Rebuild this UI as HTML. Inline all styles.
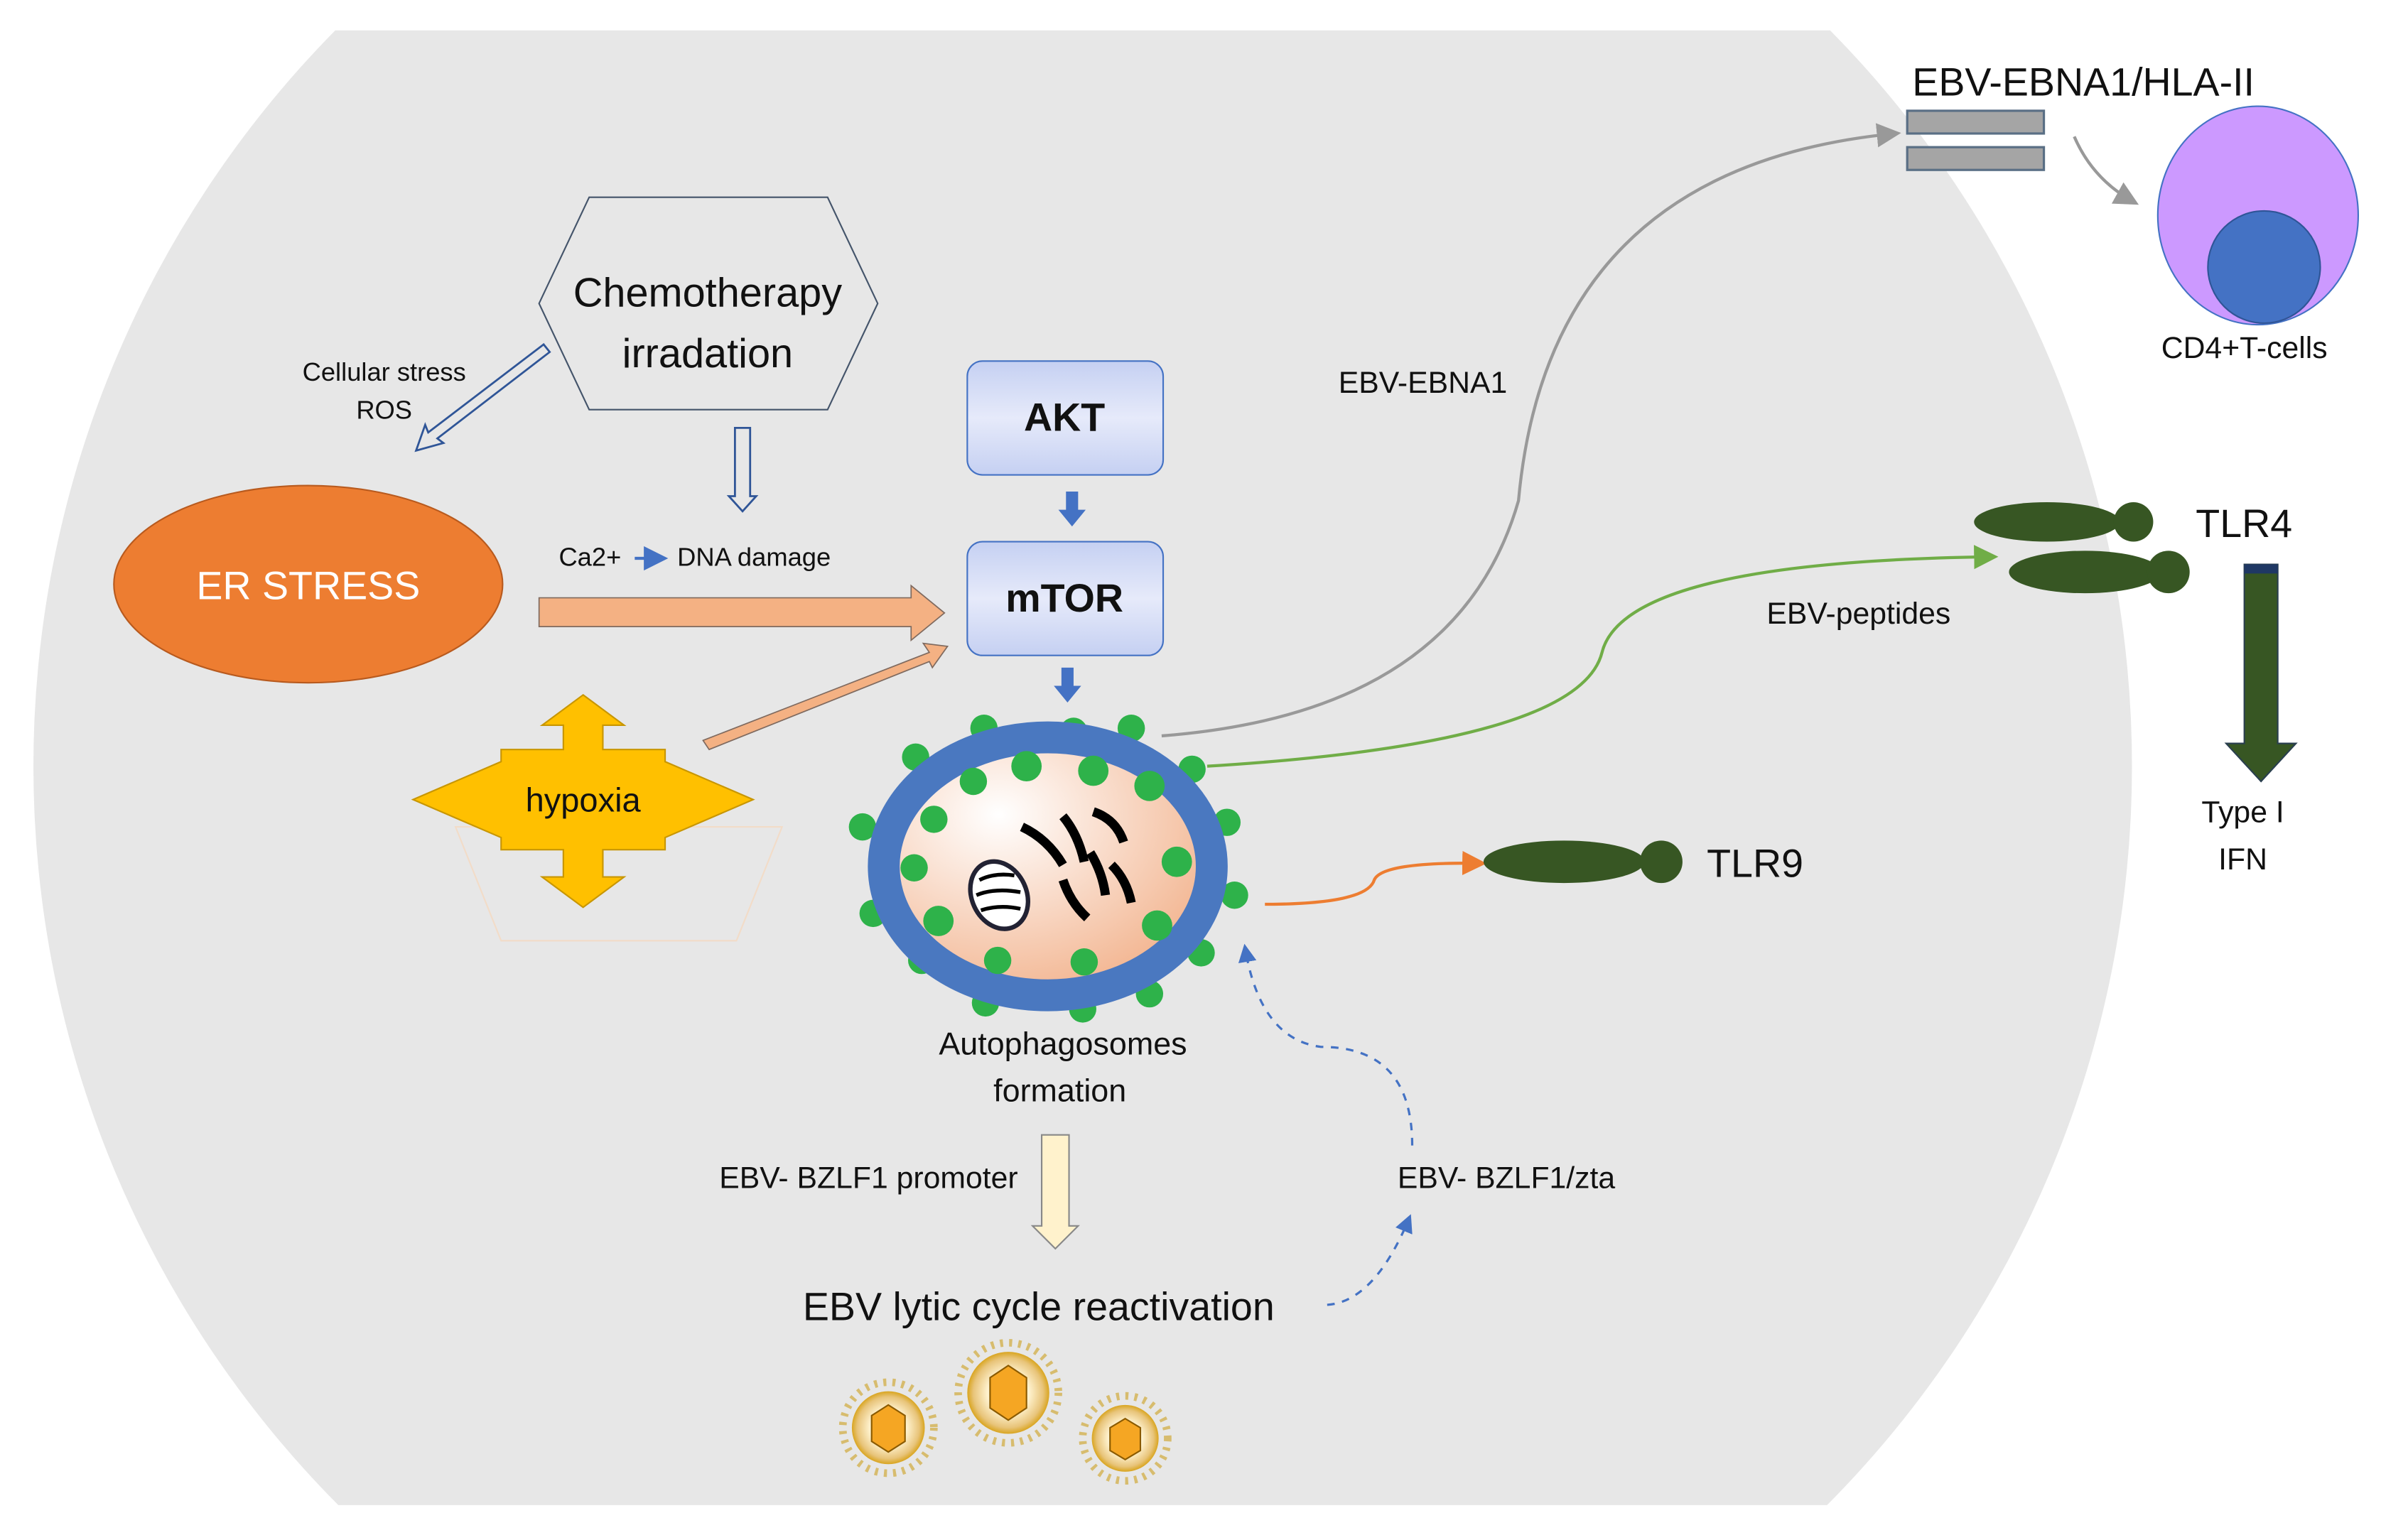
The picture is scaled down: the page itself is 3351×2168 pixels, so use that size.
<!DOCTYPE html>
<html><head><meta charset="utf-8"><style>
html,body{margin:0;padding:0;background:#fff;width:3351px;height:2168px;overflow:hidden}
svg{display:block}
text{font-family:"Liberation Sans",sans-serif;fill:#111}
</style></head><body>
<svg width="3351" height="2168" viewBox="0 0 1568 1015" preserveAspectRatio="none" xmlns="http://www.w3.org/2000/svg">
<defs>
<radialGradient id="inner" cx="0.35" cy="0.3" r="0.7"><stop offset="0" stop-color="#fff"/><stop offset="1" stop-color="#f3b895"/></radialGradient>
<linearGradient id="box" x1="0" y1="0" x2="0" y2="1"><stop offset="0" stop-color="#c5d0f2"/><stop offset="0.5" stop-color="#e6eafa"/><stop offset="1" stop-color="#c5d0f2"/></linearGradient>
<radialGradient id="vir" cx="0.5" cy="0.5" r="0.5"><stop offset="0.5" stop-color="#fff3d0"/><stop offset="0.85" stop-color="#e8c47a"/><stop offset="1" stop-color="#d9a520"/></radialGradient>
<marker id="ag" markerWidth="8" markerHeight="8" refX="6" refY="4" orient="auto"><path d="M0,0 L8,4 L0,8 z" fill="#999"/></marker>
<marker id="agr" markerWidth="8" markerHeight="8" refX="6" refY="4" orient="auto"><path d="M0,0 L8,4 L0,8 z" fill="#70ad47"/></marker>
<marker id="aor" markerWidth="8" markerHeight="8" refX="6" refY="4" orient="auto"><path d="M0,0 L8,4 L0,8 z" fill="#ed7d31"/></marker>
<marker id="abl" markerWidth="8" markerHeight="8" refX="6" refY="4" orient="auto"><path d="M0,0 L8,4 L0,8 z" fill="#4472c4"/></marker>
</defs>
<path d="M220.8,20 L1205.2,20 A691 691 0 0 1 1203.2,992 L222.8,992 A691 691 0 0 1 220.8,20 z" fill="#e7e7e7"/>

<polygon points="388,130 545,130 578,200 545,270 388,270 355,200" fill="#e7e7e7" stroke="#44546a" stroke-width="1"/>
<text x="466" y="202" font-size="27" text-anchor="middle">Chemotherapy</text>
<text x="466" y="242" font-size="27" text-anchor="middle">irradation</text>

<g fill="none" stroke="#2f5597" stroke-width="1.3">
<path d="M358,227 L282,285 L280,280 L274,297 L292,292 L288,289 L362,232 z"/>
<path d="M484,282 L484,327 L480,327 L489,337 L498,327 L494,327 L494,282 z"/>
</g>
<text x="253" y="251" font-size="17" text-anchor="middle">Cellular stress</text>
<text x="253" y="276" font-size="17" text-anchor="middle">ROS</text>

<ellipse cx="203" cy="385" rx="128" ry="65" fill="#ed7d31" stroke="#b85a1e" stroke-width="1"/>
<text x="203" y="395" font-size="26" text-anchor="middle" style="fill:#fff">ER STRESS</text>

<text x="368" y="373" font-size="17">Ca2+</text>
<line x1="418" y1="368" x2="436" y2="368" stroke="#4472c4" stroke-width="2" marker-end="url(#abl)"/>
<text x="446" y="373" font-size="17">DNA damage</text>

<path d="M355,394 L600,394 L600,386 L622,404 L600,422 L600,413 L355,413 z" fill="#f4b183" stroke="#7f6a5f" stroke-width="0.8"/>
<path d="M463,488 L612,430 L608,424 L624,426 L614,440 L612,436 L467,494 z" fill="#f4b183" stroke="#7f6a5f" stroke-width="0.8"/>

<rect x="637" y="238" width="129" height="75" rx="10" fill="url(#box)" stroke="#4472c4" stroke-width="1"/>
<text x="701" y="284" font-size="26" font-weight="bold" text-anchor="middle">AKT</text>
<rect x="637" y="357" width="129" height="75" rx="10" fill="url(#box)" stroke="#4472c4" stroke-width="1"/>
<text x="701" y="403" font-size="26" font-weight="bold" text-anchor="middle">mTOR</text>
<path d="M702,324 L710,324 L710,336 L715,336 L706,347 L697,336 L702,336 z" fill="#4472c4"/>
<path d="M699,440 L707,440 L707,452 L712,452 L703,463 L694,452 L699,452 z" fill="#4472c4"/>

<polygon points="300,545 330,620 485,620 515,545" fill="none" stroke="#f2dcc8" stroke-width="1"/>
<path d="M384,458 L411,478 L397,478 L397,494 L438,494 L438,502 L496,527 L438,552 L438,560 L397,560 L397,578 L411,578 L384,598 L357,578 L371,578 L371,560 L330,560 L330,552 L272,527 L330,502 L330,494 L371,494 L371,478 L357,478 z" fill="#ffc000" stroke="#c89600" stroke-width="1"/>
<text x="384" y="535" font-size="22" text-anchor="middle">hypoxia</text>

<g fill="#2eb24a">
<circle cx="648" cy="480" r="9"/><circle cx="707" cy="482" r="9"/><circle cx="745" cy="480" r="9"/>
<circle cx="603" cy="499" r="9"/><circle cx="785" cy="507" r="9"/><circle cx="568" cy="545" r="9"/>
<circle cx="808" cy="542" r="9"/><circle cx="575" cy="602" r="9"/><circle cx="813" cy="590" r="9"/>
<circle cx="791" cy="628" r="9"/><circle cx="607" cy="633" r="9"/><circle cx="757" cy="655" r="9"/>
<circle cx="649" cy="661" r="9"/><circle cx="713" cy="665" r="9"/>
</g>
<ellipse cx="690" cy="571" rx="108" ry="85" fill="url(#inner)" stroke="#4a78c0" stroke-width="21"/>
<g fill="#2eb24a">
<circle cx="641" cy="515" r="9"/><circle cx="676" cy="505" r="10"/><circle cx="720" cy="508" r="10"/>
<circle cx="615" cy="540" r="9"/><circle cx="602" cy="572" r="9"/><circle cx="618" cy="607" r="10"/>
<circle cx="657" cy="633" r="9"/><circle cx="714" cy="634" r="9"/><circle cx="757" cy="518" r="10"/>
<circle cx="775" cy="568" r="10"/><circle cx="762" cy="610" r="10"/>
</g>
<g stroke="#000" stroke-width="6" fill="none" stroke-linecap="butt">
<path d="M673,545 Q690,553 700,570"/><path d="M700,538 Q710,550 714,568"/>
<path d="M720,535 Q735,540 740,555"/><path d="M718,562 Q726,575 728,590"/>
<path d="M700,580 Q705,595 716,605"/><path d="M732,570 Q742,580 745,595"/>
</g>
<ellipse cx="658" cy="590" rx="18" ry="23" transform="rotate(-25 658 590)" fill="#fff" stroke="#223" stroke-width="3"/>
<g stroke="#000" stroke-width="2.5" fill="none"><path d="M645,580 Q655,575 668,577"/><path d="M643,590 Q655,585 672,588"/><path d="M646,600 Q658,596 672,599"/></g>
<text x="700" y="695" font-size="21" text-anchor="middle">Autophagosomes</text>
<text x="698" y="726" font-size="21" text-anchor="middle">formation</text>

<path d="M686,748 L704,748 L704,808 L710,808 L695,823 L680,808 L686,808 z" fill="#fff2cc" stroke="#888" stroke-width="1"/>
<text x="572" y="783" font-size="20" text-anchor="middle">EBV- BZLF1 promoter</text>
<text x="684" y="870" font-size="26" text-anchor="middle">EBV lytic cycle reactivation</text>
<text x="992" y="783" font-size="20" text-anchor="middle">EBV- BZLF1/zta</text>
<path d="M874,860 Q905,858 928,803" fill="none" stroke="#4472c4" stroke-width="1.5" stroke-dasharray="5,5" marker-end="url(#abl)"/>
<path d="M930,755 Q930,690 870,690 Q830,685 820,625" fill="none" stroke="#4472c4" stroke-width="1.5" stroke-dasharray="5,5" marker-end="url(#abl)"/>

<g>
<circle cx="585" cy="941" r="30" fill="none" stroke="#d7bc6e" stroke-width="5" stroke-dasharray="2,4"/>
<circle cx="585" cy="941" r="24" fill="url(#vir)"/>
<polygon points="585,926 596,933 596,950 585,957 574,950 574,933" fill="#f5a623" stroke="#8a5a00" stroke-width="1"/>
<circle cx="664" cy="918" r="33" fill="none" stroke="#d7bc6e" stroke-width="5" stroke-dasharray="2,4"/>
<circle cx="664" cy="918" r="27" fill="url(#vir)"/>
<polygon points="664,900 676,908 676,928 664,936 652,928 652,908" fill="#f5a623" stroke="#8a5a00" stroke-width="1"/>
<circle cx="741" cy="948" r="28" fill="none" stroke="#d7bc6e" stroke-width="5" stroke-dasharray="2,4"/>
<circle cx="741" cy="948" r="22" fill="url(#vir)"/>
<polygon points="741,935 751,941 751,956 741,962 731,956 731,941" fill="#f5a623" stroke="#8a5a00" stroke-width="1"/>
</g>

<path d="M765,485 Q960,470 1000,330 Q1020,110 1248,88" fill="none" stroke="#999" stroke-width="2" marker-end="url(#ag)"/>
<text x="937" y="259" font-size="20" text-anchor="middle">EBV-EBNA1</text>
<path d="M795,505 Q1040,490 1055,430 Q1070,370 1312,367" fill="none" stroke="#70ad47" stroke-width="2" marker-end="url(#agr)"/>
<text x="1224" y="411" font-size="20" text-anchor="middle">EBV-peptides</text>
<path d="M833,596 Q900,596 905,580 Q910,568 975,569" fill="none" stroke="#ed7d31" stroke-width="2" marker-end="url(#aor)"/>

<ellipse cx="1030" cy="568" rx="53" ry="14" fill="#375623"/>
<circle cx="1094" cy="568" r="14" fill="#375623"/>
<text x="1124" y="578" font-size="26">TLR9</text>

<ellipse cx="1348" cy="344" rx="48" ry="13" fill="#375623"/>
<circle cx="1405" cy="344" r="13" fill="#375623"/>
<ellipse cx="1373" cy="377" rx="50" ry="14" fill="#375623"/>
<circle cx="1428" cy="377" r="14" fill="#375623"/>
<text x="1446" y="354" font-size="26">TLR4</text>
<path d="M1478,372 L1500,372 L1500,490 L1512,490 L1489,515 L1466,490 L1478,490 z" fill="#375623" stroke="#2a3f4f" stroke-width="1"/>
<rect x="1478" y="372" width="22" height="6" fill="#1f3864"/>
<text x="1477" y="542" font-size="20" text-anchor="middle">Type I</text>
<text x="1477" y="573" font-size="20" text-anchor="middle">IFN</text>

<text x="1372" y="63" font-size="26" text-anchor="middle">EBV-EBNA1/HLA-II</text>
<rect x="1256" y="73" width="90" height="15" fill="#a5a5a5" stroke="#5a6f85" stroke-width="1.5"/>
<rect x="1256" y="97" width="90" height="15" fill="#a5a5a5" stroke="#5a6f85" stroke-width="1.5"/>
<path d="M1366,90 Q1378,118 1405,133" fill="none" stroke="#999" stroke-width="2" marker-end="url(#ag)"/>
<ellipse cx="1487" cy="142" rx="66" ry="72" fill="#cc99ff" stroke="#4472c4" stroke-width="1"/>
<circle cx="1491" cy="176" r="37" fill="#4472c4" stroke="#2f5597" stroke-width="1"/>
<text x="1478" y="236" font-size="20" text-anchor="middle">CD4+T-cells</text>
</svg>
</body></html>
